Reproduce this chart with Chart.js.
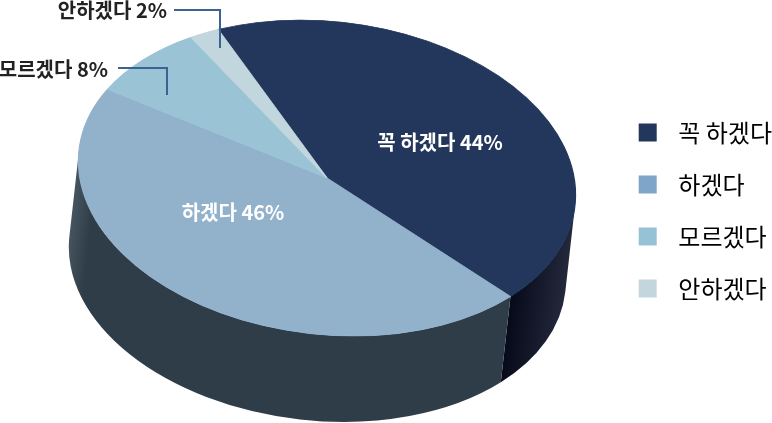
<!DOCTYPE html>
<html>
<head>
<meta charset="utf-8">
<style>
  html, body { margin: 0; padding: 0; background: #fff; }
  canvas { display: block; }
</style>
<script src="https://cdn.jsdelivr.net/npm/chart.js@4"></script>
</head>
<body>
<canvas id="pie3d" width="772" height="423"></canvas>
<script>
// chart data
const answers = ['꼭 하겠다', '하겠다', '모르겠다', '안하겠다'];
const percents = [44, 46, 8, 2];

// colours
const topColors = ['#22375b', '#92b1cb', '#9bc3d6', '#c2d6de'];
const legendColors = ['#22375b', '#7fa5c8', '#97c2d6', '#c3d6de'];
const wallColors = [['#05091a', '#23283a'], ['#46545f', '#2f3d49'], ['#2f3d49', '#2f3d49'], ['#2f3d49', '#2f3d49']];

const FONT = '"Noto Sans CJK KR", "Noto Sans", sans-serif';

// the flat pie gets squashed and tilted onto this ellipse
const tilt = 6.4 * Math.PI / 180;
const centerX = 327, centerY = 178;
const ellipseW = 249.5, ellipseH = 156.5, wallDepth = 86.5;

// labels outside the pie hang on a leader line
const insideLabels = { 0: [440, 142], 1: [233, 212] };
const outsideLabels = {
  2: { right: 108, y: 69, line: [[118, 68], [167, 68], [167, 95]] },
  3: { right: 167, y: 10, line: [[174, 10], [220, 10], [220, 48]] }
};

const pie3d = {
  id: 'pie3d',
  beforeDatasetsDraw(chart) {
    const ctx = chart.ctx;
    const arcs = chart.getDatasetMeta(0).data;
    const R = arcs[0].outerRadius;
    const sx = ellipseW / R, sy = ellipseH / R;
    ctx.save();
    ctx.translate(centerX, centerY);
    ctx.rotate(tilt);
    ctx.scale(sx, sy);
    ctx.translate(-arcs[0].x, -arcs[0].y);

    // side wall first, top face goes over it. only the front half of the rim has one
    const drop = wallDepth / sy;
    arcs.forEach((arc, i) => {
      const from = Math.max(arc.startAngle, 0);
      const to = Math.min(arc.endAngle, Math.PI);
      if (from >= to) return;
      const g = ctx.createLinearGradient(
        arc.x + (i === 0 ? 0.78 : -1) * R, 0,
        arc.x + (i === 0 ? 1 : -0.92) * R, 0);
      g.addColorStop(0, wallColors[i][0]);
      g.addColorStop(1, wallColors[i][1]);
      ctx.beginPath();
      ctx.arc(arc.x, arc.y, R, from, to);
      ctx.arc(arc.x, arc.y + drop, R, to, from, true);
      ctx.closePath();
      ctx.fillStyle = g;
      ctx.fill();
    });
  },
  afterDatasetsDraw(chart) {
    const ctx = chart.ctx;
    ctx.restore();

    ctx.textBaseline = 'middle';
    ctx.font = '700 20px ' + FONT;
    answers.forEach((name, i) => {
      const text = name + ' ' + percents[i] + '%';
      if (insideLabels[i]) {
        ctx.fillStyle = '#fff';
        ctx.textAlign = 'center';
        ctx.fillText(text, insideLabels[i][0], insideLabels[i][1]);
      } else {
        const o = outsideLabels[i];
        ctx.fillStyle = '#222';
        ctx.textAlign = 'right';
        ctx.fillText(text, o.right, o.y);
        ctx.beginPath();
        o.line.forEach((p, n) => n ? ctx.lineTo(p[0], p[1]) : ctx.moveTo(p[0], p[1]));
        ctx.strokeStyle = '#3a6391';
        ctx.lineWidth = 2;
        ctx.stroke();
      }
    });
  }
};

new Chart(document.getElementById('pie3d'), {
  type: 'pie',
  data: {
    labels: answers,
    datasets: [{
      data: percents,
      backgroundColor: topColors,
      borderColor: topColors,
      borderWidth: 1,
      clip: false
    }]
  },
  options: {
    responsive: false,
    animation: false,
    rotation: -30,
    layout: { padding: { right: -10, bottom: 2 } },
    plugins: {
      tooltip: { enabled: false },
      legend: {
        position: 'right',
        align: 'center',
        labels: {
          boxWidth: 18,
          boxHeight: 18,
          padding: 28,
          color: '#222',
          font: { family: FONT, size: 24 },
          generateLabels: () => answers.map((name, i) => ({
            text: '\u2009\u2009' + name,
            fillStyle: legendColors[i],
            strokeStyle: legendColors[i],
            lineWidth: 0,
            index: i
          }))
        }
      }
    }
  },
  plugins: [pie3d]
});
</script>
</body>
</html>
